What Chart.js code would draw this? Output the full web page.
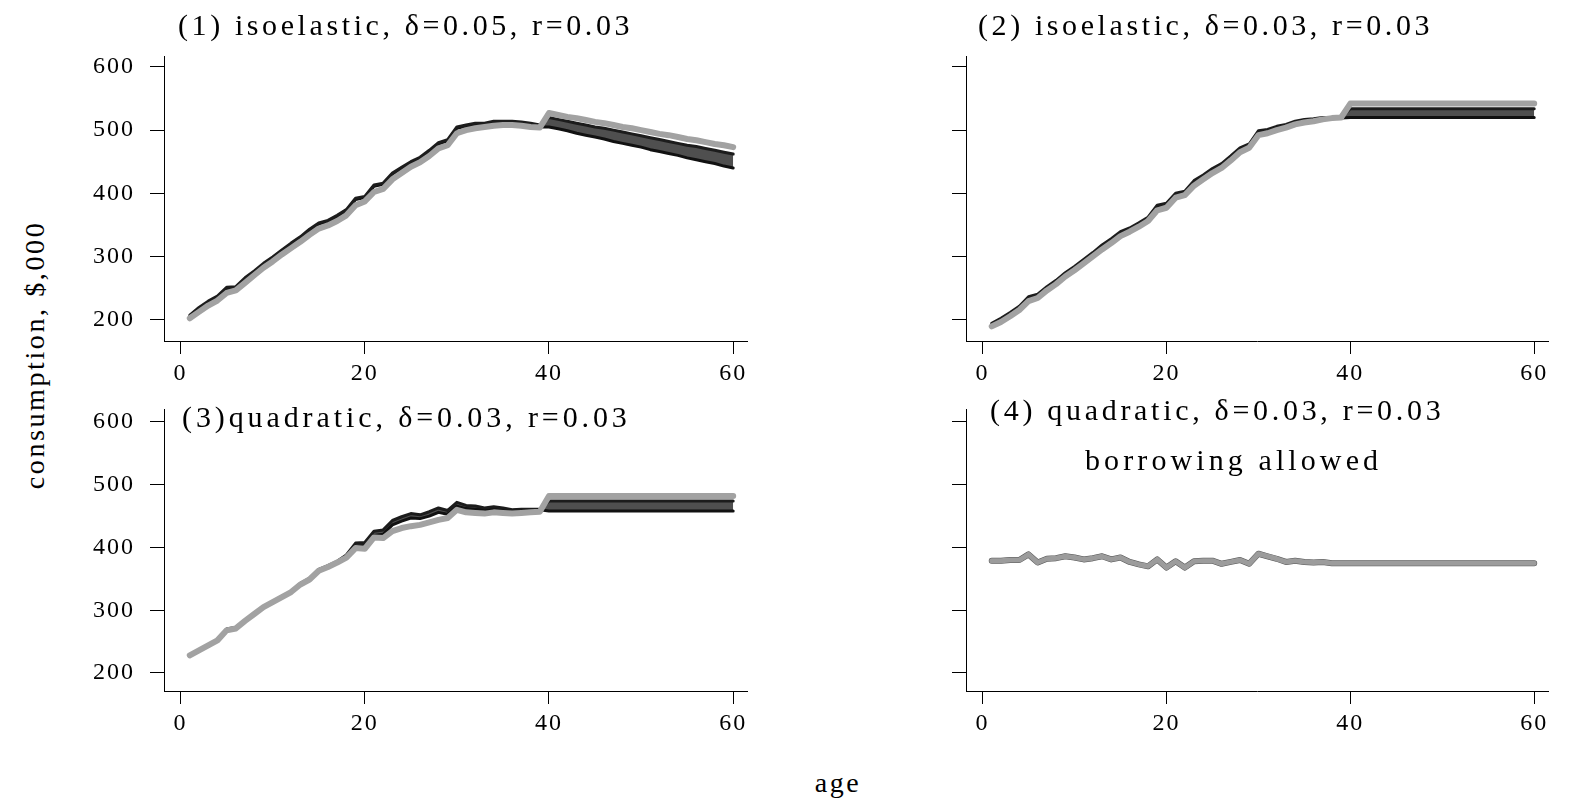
<!DOCTYPE html>
<html>
<head>
<meta charset="utf-8">
<script src="https://cdn.jsdelivr.net/npm/chart.js@4.4.1/dist/chart.umd.min.js"></script>
<style>
  html, body { margin: 0; padding: 0; background: #ffffff; }
  body { width: 1581px; height: 810px; position: relative; overflow: hidden; font-family: "Liberation Serif", "Times New Roman", serif; color: #000; }
  canvas { position: absolute; }
  .t { position: absolute; white-space: nowrap; font-size: 30px; line-height: 1; letter-spacing: 3.6px; }
</style>
</head>
<body>
<canvas id="c1"></canvas>
<canvas id="c2"></canvas>
<canvas id="c3"></canvas>
<canvas id="c4"></canvas>
<div class="t" id="t1" style="left:178px; top:10px;"></div>
<div class="t" id="t2" style="left:978px; top:10px;"></div>
<div class="t" id="t3" style="left:182px; top:402px; letter-spacing:3.9px;"></div>
<div class="t" id="t4" style="left:990px; top:395px; letter-spacing:3.7px;"></div>
<div class="t" id="t5" style="left:1085px; top:445px; letter-spacing:4.1px;"></div>
<div class="t" id="ty" style="left:35px; top:355px; font-size:28px; letter-spacing:2.6px; transform: translate(-50%,-50%) rotate(-90deg);"></div>
<div class="t" id="tx" style="left:838px; top:783px; font-size:28px; letter-spacing:2.6px; transform: translate(-50%,-50%);"></div>
<script>
// ---------- data ----------
const ages = [1,2,3,4,5,6,7,8,9,10,11,12,13,14,15,16,17,18,19,20,21,22,23,24,25,26,27,28,29,30,31,32,33,34,35,36,37,38,39,40,41,42,43,44,45,46,47,48,49,50,51,52,53,54,55,56,57,58,59,60];
const xTicks = [0, 20, 40, 60];
const yTicks = [200, 300, 400, 500, 600];

const panelTitles = [
  "(1) isoelastic, \u03b4=0.05, r=0.03",
  "(2) isoelastic, \u03b4=0.03, r=0.03",
  "(3)quadratic, \u03b4=0.03, r=0.03",
  "(4) quadratic, \u03b4=0.03, r=0.03"
];
const panel4Subtitle = "borrowing allowed";
const yTitle = "consumption, $,000";
const xTitle = "age";

// panel 1: isoelastic, delta=0.05
const p1Gray = [202,212,222,230,242,246,258,270,282,292,303,313,323,334,344,349,356,365,381,387,402,407,422,432,442,449,459,471,476,495,500,503,505,507,508,508,507,505,504,
  527,524,521,519,516,513,511,508,505,503,500,497,494,492,489,486,484,481,478,476,473];
const p1Top = [207,219,229,237,251,252,266,277,289,299,310,321,331,343,353,357,365,374,392,395,413,416,432,441,450,457,468,480,485,505,508,511,511,514,514,514,513,511,508,
  520,517,514,511,508,505,503,500,497,494,491,488,485,482,479,476,474,471,468,465,462];
const p1Bottom = [205,217,227,235,249,250,264,275,287,297,308,319,329,341,351,355,363,372,390,393,411,414,430,439,448,455,466,478,483,503,506,509,509,512,512,512,511,508,505,
  505,502,499,495,492,489,486,482,479,476,473,469,466,463,460,456,453,450,447,443,440];

// panel 2: isoelastic, delta=0.03
const p2Gray = [189,196,205,215,229,234,246,256,268,278,289,300,311,321,332,339,347,356,373,377,393,397,412,422,432,440,452,465,472,492,495,500,504,509,512,514,517,519,520,
  542,542,542,542,542,542,542,542,542,542,542,542,542,542,542,542,542,542,542,542,542];
const p2Top = [194,202,211,221,236,240,252,262,274,284,295,306,318,328,339,345,353,362,381,384,400,403,420,429,439,447,459,472,478,499,501,506,509,514,517,518,520,520,520,
  534,534,534,534,534,534,534,534,534,534,534,534,534,534,534,534,534,534,534,534,534];
const p2Bottom = [192,200,209,219,234,238,250,260,272,282,293,304,316,326,337,343,351,360,379,382,398,401,418,427,437,445,457,470,476,497,499,504,507,512,515,516,518,518,519,
  520,520,520,520,520,520,520,520,520,520,520,520,520,520,520,520,520,520,520,520,520];

// panel 3: quadratic, delta=0.03
const p3Gray = [228,236,244,252,268,271,283,294,305,313,321,329,341,349,363,369,376,384,399,398,416,415,426,431,434,436,440,444,447,460,456,455,454,456,455,454,455,456,457,
  482,482,482,482,482,482,482,482,482,482,482,482,482,482,482,482,482,482,482,482,482];
const p3Top = [229,237,245,253,270,273,284,295,306,314,322,330,343,351,365,371,378,388,407,408,426,428,443,449,454,452,457,463,459,472,467,466,463,465,463,460,461,461,461,
  474,474,474,474,474,474,474,474,474,474,474,474,474,474,474,474,474,474,474,474,474];
const p3Bottom = [228,236,244,252,269,272,283,294,305,313,321,329,342,350,364,370,377,387,402,403,419,421,436,442,447,446,450,456,453,466,462,461,460,461,460,459,460,460,460,
  458,458,458,458,458,458,458,458,458,458,458,458,458,458,458,458,458,458,458,458,458];

// panel 4: quadratic, borrowing allowed
const p4Line = [379,379,380,380,389,376,382,383,386,384,381,383,386,381,384,377,373,370,381,368,378,368,378,379,379,374,377,380,374,390,386,382,377,379,377,376,377,375,375,
  375,375,375,375,375,375,375,375,375,375,375,375,375,375,375,375,375,375,375,375,375];

// ---------- styling / layout ----------
const FONT = "'Liberation Serif', 'Times New Roman', serif";
const GRAY = '#a2a2a2';
const BLACK = '#1c1c1c';
const BAND = '#4f4f4f';
const AXW = 100, AXH = 60, PADT = 40, PADR = 30;

document.getElementById('t1').textContent = panelTitles[0];
document.getElementById('t2').textContent = panelTitles[1];
document.getElementById('t3').textContent = panelTitles[2];
document.getElementById('t4').textContent = panelTitles[3];
document.getElementById('t5').textContent = panel4Subtitle;
document.getElementById('ty').textContent = yTitle;
document.getElementById('tx').textContent = xTitle;

const spacingPlugin = {
  id: 'spacing',
  beforeDraw(chart) { chart.ctx.letterSpacing = '2px'; }
};

function pts(vals) { return ages.map((a, i) => ({ x: a, y: vals[i] })); }

function makePanel(id, area, yRange, datasets) {
  const cv = document.getElementById(id);
  const w = AXW + area.w + PADR, h = PADT + area.h + AXH;
  cv.width = w; cv.height = h;
  cv.style.width = w + 'px'; cv.style.height = h + 'px';
  cv.style.left = (area.left - AXW) + 'px';
  cv.style.top = (area.top - PADT) + 'px';
  new Chart(cv, {
    type: 'line',
    data: { datasets },
    plugins: [spacingPlugin],
    options: {
      responsive: false,
      animation: false,
      devicePixelRatio: 1,
      layout: { padding: { top: PADT, right: PADR, left: 0, bottom: 0 } },
      plugins: { legend: { display: false }, tooltip: { enabled: false }, title: { display: false } },
      elements: { point: { radius: 0 }, line: { tension: 0, borderJoinStyle: 'round', borderCapStyle: 'round' } },
      scales: {
        x: {
          type: 'linear', min: -1.8, max: 61.5,
          afterBuildTicks: s => { s.ticks = xTicks.map(v => ({ value: v })); },
          afterFit: s => { s.height = AXH; },
          grid: { display: true, drawOnChartArea: false, drawTicks: true, tickLength: 13, color: '#000', lineWidth: 1 },
          border: { display: true, color: '#000', width: 1 },
          ticks: { color: '#000', font: { family: FONT, size: 24 }, padding: 5, maxRotation: 0, autoSkip: false }
        },
        y: {
          type: 'linear', min: yRange[0], max: yRange[1],
          afterBuildTicks: s => { s.ticks = yTicks.map(v => ({ value: v })); },
          afterFit: s => { s.width = AXW; },
          grid: { display: true, drawOnChartArea: false, drawTicks: true, tickLength: 14, color: '#000', lineWidth: 1 },
          border: { display: true, color: '#000', width: 1 },
          ticks: { color: '#000', font: { family: FONT, size: 24 }, padding: 15, autoSkip: false, display: area.labels }
        }
      }
    }
  });
}

function bandSets(gray, top, bottom) {
  return [
    { data: pts(gray), borderColor: GRAY, borderWidth: 6, fill: false },
    { data: pts(top), borderColor: BLACK, borderWidth: 3, fill: false },
    { data: pts(bottom), borderColor: '#111111', borderWidth: 3, fill: 1, backgroundColor: BAND }
  ];
}

makePanel('c1', { left: 164, top: 56, w: 583, h: 285, labels: true }, [165.9, 617.4], bandSets(p1Gray, p1Top, p1Bottom));
makePanel('c2', { left: 966, top: 56, w: 582, h: 285, labels: false }, [165.9, 617.4], bandSets(p2Gray, p2Top, p2Bottom));
makePanel('c3', { left: 164, top: 409, w: 583, h: 282, labels: true }, [171.3, 620.7], bandSets(p3Gray, p3Top, p3Bottom));
makePanel('c4', { left: 966, top: 409, w: 582, h: 282, labels: false }, [171.3, 620.7], [
  { data: pts(p4Line), borderColor: '#9c9c9c', borderWidth: 5, fill: false },
  { data: pts(p4Line), borderColor: '#555555', borderWidth: 6, fill: false }
]);
</script>
</body>
</html>
